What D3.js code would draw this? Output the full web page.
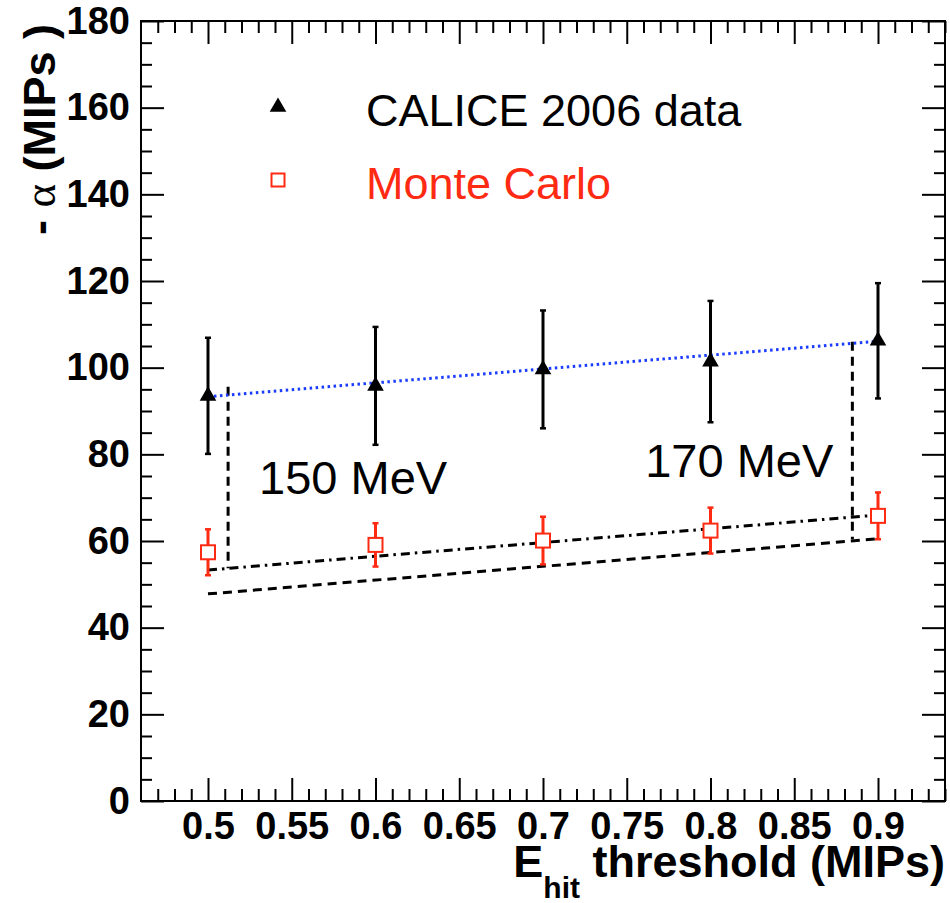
<!DOCTYPE html>
<html>
<head>
<meta charset="utf-8">
<script src="https://cdn.jsdelivr.net/npm/d3@7"></script>
<style>
  body { margin: 0; background: #fff; }
  svg { display: block; }
  .tick text { font-family: "Liberation Sans Narrow", "Liberation Sans", Arial, sans-serif; font-weight: bold; }
</style>
</head>
<body>
<div id="plot"></div>
<script>
// ############ DATA ###############

const thresholds = [0.5, 0.6, 0.7, 0.8, 0.9];
const dataAlpha = [93.5, 95.8, 99.6, 101.4, 106.2];
const dataErr = [13.4, 13.6, 13.6, 14.0, 13.3];
const mcAlpha = [57.4, 59.1, 60.1, 62.4, 65.8];
const mcErr = [5.3, 5.0, 5.5, 5.3, 5.4];

// fit through data, and the two MC model lines (value at 0.5 and 0.9)
const fitEnds = [[0.5, 93.3], [0.9, 106.1]];
const dashDotEnds = [[0.5, 53.3], [0.9, 66.0]];
const dashedEnds = [[0.5, 47.8], [0.9, 60.5]];
// vertical markers for 150 MeV / 170 MeV
const markers = [
  {x: 0.512, y0: 95.6, y1: 53.7, label: "150 MeV", lx: 0.5305, ly: 70.9},
  {x: 0.8847, y0: 106.0, y1: 60.4, label: "170 MeV", lx: 0.761, ly: 74.8}
];

const xMajor = [0.5, 0.55, 0.6, 0.65, 0.7, 0.75, 0.8, 0.85, 0.9];
const yMajor = [0, 20, 40, 60, 80, 100, 120, 140, 160, 180];

const legendItems = [
  {label: "CALICE 2006 data", color: "#000", shape: "triangle"},
  {label: "Monte Carlo", color: "#ff2a12", shape: "square"}
];

// ############ SETUP ###############

const w = 950, h = 903;
const margin = {left: 141, right: 5, top: 21, bottom: 102};
const innerWidth = w - margin.left - margin.right;
const innerHeight = h - margin.top - margin.bottom;
const red = "#ff2a12";

const xScale = d3.scaleLinear().domain([0.46, 0.94]).range([0, innerWidth]);
const yScale = d3.scaleLinear().domain([0, 180]).range([innerHeight, 0]);

const xMinor = d3.range(47, 95).map(d => d / 100).filter(d => !xMajor.some(m => Math.abs(m - d) < 1e-6));
const yMinor = d3.range(0, 181, 5).filter(d => d % 20 != 0);

const svg = d3.select("div#plot")
  .append("svg")
  .attr("width", w)
  .attr("height", h);

const g = svg.append("g")
  .attr("id", "plotarea")
  .attr("transform", `translate( ${margin.left}, ${margin.top} )`);

// frame
g.append("rect")
  .attr("width", innerWidth)
  .attr("height", innerHeight)
  .attr("fill", "none")
  .attr("stroke", "#000")
  .attr("stroke-width", 2);

function styleAxis(sel) {
  sel.select(".domain").remove();
  sel.selectAll(".tick line").attr("stroke", "#000").attr("stroke-width", 2);
}

// tick-only axes: drop the empty labels
function ticksOnly(sel) {
  styleAxis(sel);
  sel.selectAll(".tick text").remove();
}

// x axes (ticks point inward)
g.append("g")
  .attr("transform", `translate(0, ${innerHeight})`)
  .call(d3.axisBottom(xScale).tickValues(xMajor).tickSize(-23).tickPadding(11).tickFormat(d3.format("")))
  .call(styleAxis)
  .selectAll("text")
    .attr("font-size", 38)
    .attr("fill", "#000");

g.append("g")
  .attr("transform", `translate(0, ${innerHeight})`)
  .call(d3.axisBottom(xScale).tickValues(xMinor).tickSize(-12))
  .call(ticksOnly);

g.append("g")
  .call(d3.axisTop(xScale).tickValues(xMajor).tickSize(-23))
  .call(ticksOnly);

g.append("g")
  .call(d3.axisTop(xScale).tickValues(xMinor).tickSize(-12))
  .call(ticksOnly);

// y axes
g.append("g")
  .call(d3.axisLeft(yScale).tickValues(yMajor).tickSize(-23).tickPadding(11))
  .call(styleAxis)
  .selectAll("text")
    .attr("font-size", 38)
    .attr("fill", "#000");

g.append("g")
  .call(d3.axisLeft(yScale).tickValues(yMinor).tickSize(-11))
  .call(ticksOnly);

g.append("g")
  .attr("transform", `translate(${innerWidth}, 0)`)
  .call(d3.axisRight(yScale).tickValues(yMajor).tickSize(-23))
  .call(ticksOnly);

g.append("g")
  .attr("transform", `translate(${innerWidth}, 0)`)
  .call(d3.axisRight(yScale).tickValues(yMinor).tickSize(-11))
  .call(ticksOnly);

// axis titles
const xlab = svg.append("text")
  .attr("id", "xlab")
  .attr("x", 945)
  .attr("y", 877)
  .attr("text-anchor", "end")
  .attr("font-family", "Liberation Sans, Arial, sans-serif")
  .attr("font-weight", "bold")
  .attr("font-size", 45);
xlab.append("tspan").text("E");
xlab.append("tspan").attr("font-size", 30).attr("dy", 21).text("hit");
xlab.append("tspan").attr("dy", -21).text(" threshold (MIPs)");

const ylab = svg.append("text")
  .attr("id", "ylab")
  .attr("transform", "translate(55, 24) rotate(-90)")
  .attr("text-anchor", "end")
  .attr("font-family", "Liberation Sans, Arial, sans-serif")
  .attr("font-weight", "bold")
  .attr("font-size", 45);
ylab.append("tspan").text("- ");
ylab.append("tspan")
  .attr("font-family", "Liberation Serif, serif")
  .attr("font-weight", "normal")
  .text("α");
ylab.append("tspan").text(" (MIPs )");

// ############ LINES ###############

const line = d3.line().x(d => xScale(d[0])).y(d => yScale(d[1]));

g.append("path")
  .attr("d", line(dashedEnds))
  .attr("fill", "none")
  .attr("stroke", "#000")
  .attr("stroke-width", 3)
  .attr("stroke-dasharray", "9,6");

g.append("path")
  .attr("d", line(dashDotEnds))
  .attr("fill", "none")
  .attr("stroke", "#000")
  .attr("stroke-width", 3)
  .attr("stroke-dasharray", "9,5,2.5,5");

g.append("g")
  .selectAll("line")
  .data(markers)
  .enter()
  .append("line")
    .attr("x1", d => xScale(d.x))
    .attr("x2", d => xScale(d.x))
    .attr("y1", d => yScale(d.y0))
    .attr("y2", d => yScale(d.y1))
    .attr("stroke", "#000")
    .attr("stroke-width", 3)
    .attr("stroke-dasharray", "9,6");

g.append("g")
  .selectAll("text")
  .data(markers)
  .enter()
  .append("text")
    .attr("x", d => xScale(d.lx))
    .attr("y", d => yScale(d.ly))
    .attr("font-family", "Liberation Sans, Arial, sans-serif")
    .attr("font-size", 47)
    .text(d => d.label);

g.append("path")
  .attr("d", line(fitEnds))
  .attr("fill", "none")
  .attr("stroke", "#1a3cff")
  .attr("stroke-width", 3)
  .attr("stroke-dasharray", "2.5,3.5");

// ############ POINTS ###############

const mc = thresholds.map((x, i) => ({x: x, y: mcAlpha[i], e: mcErr[i]}));
const dat = thresholds.map((x, i) => ({x: x, y: dataAlpha[i], e: dataErr[i]}));

function errorBars(data, color, cls) {
  const eg = g.append("g").attr("class", cls);
  eg.selectAll("line.bar")
    .data(data)
    .enter()
    .append("line")
      .attr("class", "bar")
      .attr("x1", d => xScale(d.x))
      .attr("x2", d => xScale(d.x))
      .attr("y1", d => yScale(d.y + d.e))
      .attr("y2", d => yScale(d.y - d.e))
      .attr("stroke", color)
      .attr("stroke-width", 3);
  [1, -1].forEach(s => {
    eg.selectAll("line.cap" + (s > 0 ? "u" : "d"))
      .data(data)
      .enter()
      .append("line")
        .attr("class", "cap" + (s > 0 ? "u" : "d"))
        .attr("x1", d => xScale(d.x) - 3)
        .attr("x2", d => xScale(d.x) + 3)
        .attr("y1", d => yScale(d.y + s * d.e))
        .attr("y2", d => yScale(d.y + s * d.e))
        .attr("stroke", color)
        .attr("stroke-width", 2.5);
  });
}

errorBars(mc, red, "mcerr");
g.append("g")
  .selectAll("rect")
  .data(mc)
  .enter()
  .append("rect")
    .attr("x", d => xScale(d.x) - 7)
    .attr("y", d => yScale(d.y) - 7)
    .attr("width", 14)
    .attr("height", 14)
    .attr("fill", "#fff")
    .attr("stroke", red)
    .attr("stroke-width", 2);

errorBars(dat, "#000", "dataerr");
const tri = d3.symbol().type(d3.symbolTriangle).size(120);
g.append("g")
  .selectAll("path")
  .data(dat)
  .enter()
  .append("path")
    .attr("d", tri)
    .attr("transform", d => `translate(${xScale(d.x)}, ${yScale(d.y)})`)
    .attr("fill", "#000");

// ############ LEGEND ###############

const legend = svg.append("g")
  .attr("id", "legend")
  .selectAll("g")
  .data(legendItems)
  .enter()
  .append("g")
    .attr("transform", (d, i) => `translate(278, ${107 + i * 73})`);

legend.filter(d => d.shape == "triangle")
  .append("path")
    .attr("d", tri)
    .attr("fill", d => d.color);

legend.filter(d => d.shape == "square")
  .append("rect")
    .attr("x", -6.5)
    .attr("y", -6.5)
    .attr("width", 13)
    .attr("height", 13)
    .attr("fill", "#fff")
    .attr("stroke", d => d.color)
    .attr("stroke-width", 2);

legend.append("text")
  .attr("x", 88)
  .attr("y", 19)
  .attr("font-family", "Liberation Sans, Arial, sans-serif")
  .attr("font-size", 45)
  .attr("fill", d => d.color)
  .text(d => d.label);
</script>
</body>
</html>
